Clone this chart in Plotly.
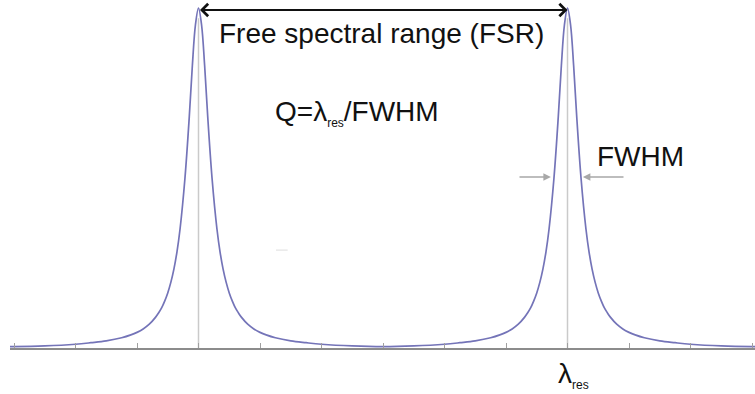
import plotly.graph_objects as go

# ---- data ----
tick_values = list(range(13))
peak_positions = [3, 9]

curve_x = [-0.07, 0, 0.5, 1, 1.25, 1.5, 1.75, 1.9, 2, 2.1, 2.2, 2.3, 2.35, 2.4, 2.45, 2.5, 2.55, 2.6, 2.65, 2.7,
           2.78, 2.85, 2.9, 2.95, 3,
           3.05, 3.1, 3.15, 3.22, 3.3, 3.35, 3.4, 3.45, 3.5, 3.55, 3.6, 3.65, 3.7, 3.8, 3.9, 4, 4.1, 4.25, 4.5,
           4.75, 5, 5.5, 6,
           6.5, 7, 7.25, 7.5, 7.75, 7.9, 8, 8.1, 8.2, 8.3, 8.35, 8.4, 8.45, 8.5, 8.55, 8.6, 8.65, 8.7,
           8.78, 8.85, 8.9, 8.95, 9,
           9.05, 9.1, 9.15, 9.22, 9.3, 9.35, 9.4, 9.45, 9.5, 9.55, 9.6, 9.65, 9.7, 9.8, 9.9, 10, 10.1, 10.25, 10.5,
           10.75, 11, 11.5, 12, 12.07]
curve_y = [0.004, 0.004, 0.006, 0.011, 0.0156, 0.021, 0.030, 0.0385, 0.046, 0.056, 0.070, 0.090, 0.103, 0.118, 0.138,
           0.162, 0.193, 0.232, 0.283, 0.35,
           0.50, 0.68, 0.83, 0.95, 1.0,
           0.95, 0.83, 0.68, 0.50, 0.35, 0.283, 0.232, 0.193, 0.162, 0.138, 0.118, 0.103, 0.090, 0.070, 0.056, 0.046,
           0.0385, 0.030, 0.021, 0.0156, 0.011, 0.006, 0.004,
           0.006, 0.011, 0.0156, 0.021, 0.030, 0.0385, 0.046, 0.056, 0.070, 0.090, 0.103, 0.118, 0.138,
           0.162, 0.193, 0.232, 0.283, 0.35,
           0.50, 0.68, 0.83, 0.95, 1.0,
           0.95, 0.83, 0.68, 0.50, 0.35, 0.283, 0.232, 0.193, 0.162, 0.138, 0.118, 0.103, 0.090, 0.070, 0.056, 0.046,
           0.0385, 0.030, 0.021, 0.0156, 0.011, 0.006, 0.004, 0.004]

fsr_label = "Free spectral range (FSR)"
q_label = "Q=λ<sub><span style='font-size:12px'>res</span></sub>/FWHM"
fwhm_label = "FWHM"
lres_label = "λ<sub><span style='font-size:12px'>res</span></sub>"
half_max = 0.503
fwhm_left = 8.73
fwhm_right = 9.25

W, H = 755, 394
FONT = "Liberation Sans, Arial, Helvetica, sans-serif"

fig = go.Figure()

# vertical grey lines at resonances
for p in peak_positions:
    fig.add_shape(type="line", xref="x", yref="y", x0=p, x1=p, y0=0, y1=0.97,
                  line=dict(color="#cacaca", width=1.5), layer="below")

fig.add_trace(go.Scatter(x=curve_x, y=curve_y, mode="lines",
                         line=dict(color="#7474b8", width=1.7, shape="spline", smoothing=1.0),
                         hoverinfo="skip", showlegend=False, cliponaxis=False))

# faint dash artifact
fig.add_shape(type="line", xref="x", yref="y", x0=4.26, x1=4.45, y0=0.288, y1=0.288,
              line=dict(color="#dddddd", width=1))

ann = []
# FSR double arrow
ann.append(dict(x=peak_positions[1], y=0.994, ax=peak_positions[0], ay=0.994, xref="x", yref="y",
                axref="x", ayref="y", text="", showarrow=True, arrowside="end+start",
                arrowhead=4, startarrowhead=4, arrowsize=1.2, startarrowsize=1.2,
                arrowwidth=2, arrowcolor="#111111", standoff=0, startstandoff=0))
# FWHM arrows
ann.append(dict(x=fwhm_left, y=half_max, ax=8.195, ay=half_max, xref="x", yref="y",
                axref="x", ayref="y", text="", showarrow=True, arrowhead=2, arrowsize=1,
                arrowwidth=1.5, arrowcolor="#a8a8a8", standoff=0))
ann.append(dict(x=fwhm_right, y=half_max, ax=9.935, ay=half_max, xref="x", yref="y",
                axref="x", ayref="y", text="", showarrow=True, arrowhead=2, arrowsize=1,
                arrowwidth=1.5, arrowcolor="#a8a8a8", standoff=0))
# texts
ann.append(dict(x=5.97, y=0.925, xref="x", yref="y", text=fsr_label, showarrow=False,
                font=dict(family=FONT, size=28, color="#111111")))
ann.append(dict(x=4.21, y=0.69, xref="x", yref="y", text=q_label, showarrow=False, xanchor="left",
                font=dict(family=FONT, size=28, color="#111111")))
ann.append(dict(x=10.195, y=0.562, xref="x", yref="y", text=fwhm_label, showarrow=False,
                font=dict(family=FONT, size=28, color="#111111")))
ann.append(dict(x=9.09, y=-8 / 348, xref="x", yref="paper", yanchor="top", text=lres_label,
                showarrow=False, font=dict(family=FONT, size=28, color="#111111")))

fig.update_layout(
    width=W, height=H,
    margin=dict(l=0, r=0, t=0, b=46),
    paper_bgcolor="white", plot_bgcolor="white",
    annotations=ann,
    xaxis=dict(domain=[10 / 755, 1], range=[(10 - 14) / 61.5, (755 - 14) / 61.5],
               showgrid=False, zeroline=False, showline=True, linecolor="#8c8c8c", linewidth=1.5,
               ticks="inside", tickvals=tick_values, ticklen=5, tickcolor="#a0a0a0", tickwidth=1,
               showticklabels=False, fixedrange=True),
    yaxis=dict(range=[0, 348 / 340], visible=False, fixedrange=True),
)

fig.write_html("out.html")
